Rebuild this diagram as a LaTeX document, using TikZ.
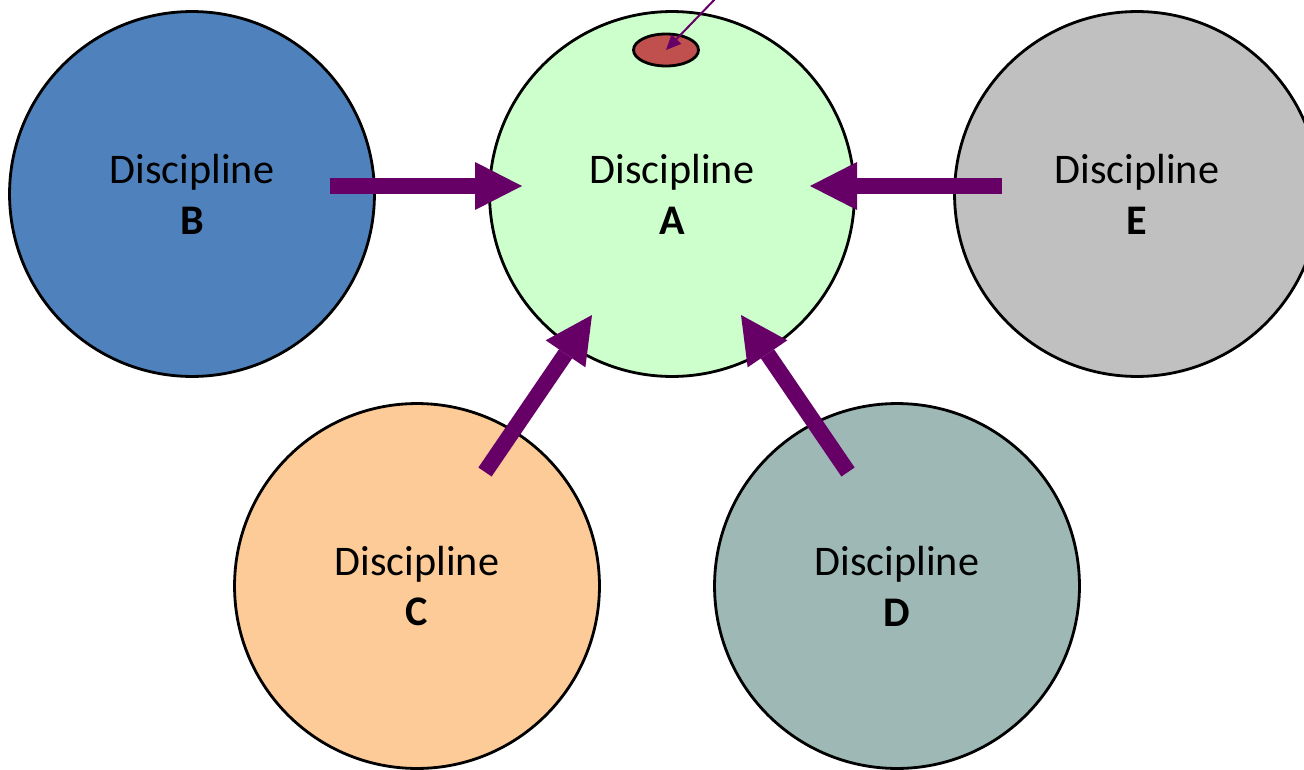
\documentclass[tikz,border=0pt]{standalone}
\usepackage{fontspec}
\setmainfont{Carlito}
\usetikzlibrary{arrows.meta,shapes.geometric}

\definecolor{discB}{HTML}{4F81BD}
\definecolor{discA}{HTML}{CCFFCC}
\definecolor{discE}{HTML}{C0C0C0}
\definecolor{discC}{HTML}{FCCB98}
\definecolor{discD}{HTML}{9EB8B5}
\definecolor{spotred}{HTML}{C0504D}
\definecolor{flow}{HTML}{660066}

\tikzset{
  disc/.style={circle, draw, line width=1.6pt, minimum size=7.3cm, inner sep=0pt,
    align=center, font=\fontsize{24}{29}\selectfont},
  bigarrow/.style={line width=0.32cm, color=flow,
    -{Triangle[length=0.94cm, width=0.96cm, line width=0pt]}}
}

\begin{document}
\begin{tikzpicture}[x=0.02cm, y=-0.02cm]
			\useasboundingbox (0,0) rectangle (1304,770);

			% Nodes
			\node[disc, fill=discB] (B) at (192,194) {Discipline\\\textbf{B}};
			\node[disc, fill=discA] (A) at (672,194) {Discipline\\\textbf{A}};
			\node[disc, fill=discE] (E) at (1137,194) {Discipline\\\textbf{E}};
			\node[disc, fill=discC] (C) at (417,586) {Discipline\\\textbf{C}};
			\node[disc, fill=discD] (D) at (897,586) {Discipline\\\textbf{D}};

			\node[ellipse, draw, line width=1.6pt, fill=spotred, minimum width=1.3cm,
			  minimum height=0.64cm, inner sep=0pt] (spot) at (666,50) {};

			% Arrow ends
			\coordinate (b1) at (330,186);
			\coordinate (b2) at (522,186);
			\coordinate (e1) at (1002,186);
			\coordinate (e2) at (810,186);
			\coordinate (c1) at (485,472);
			\coordinate (c2) at (592,315);
			\coordinate (d1) at (848,472);
			\coordinate (d2) at (741,315);
			\coordinate (top) at (716,-2);

			% Arrows into A
			\draw[bigarrow] (b1) -- (b2);
			\draw[bigarrow] (e1) -- (e2);
			\draw[bigarrow] (c1) -- (c2);
			\draw[bigarrow] (d1) -- (d2);

			\draw[line width=0.04cm, color=flow, -{Triangle[length=0.3cm, width=0.26cm]}]
			  (top) -- (spot.center);

		\end{tikzpicture}
\end{document}
